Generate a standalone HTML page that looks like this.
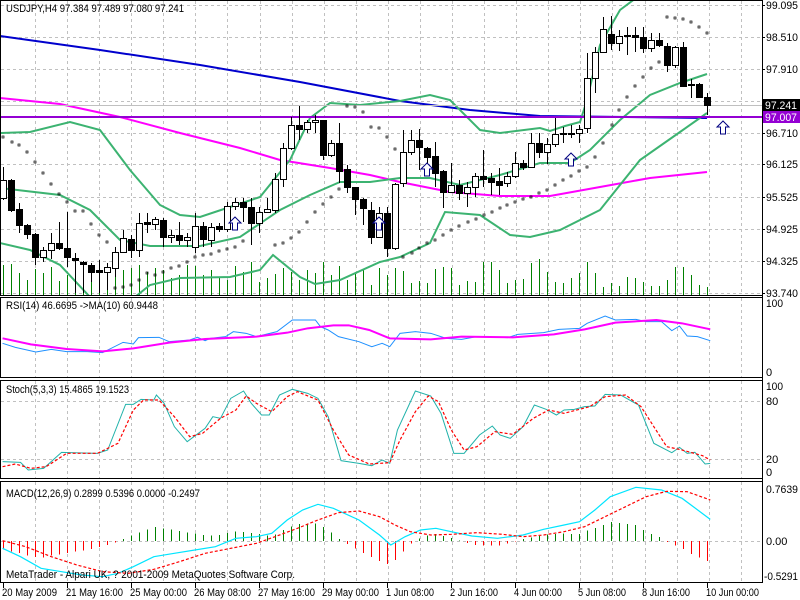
<!DOCTYPE html>
<html><head><meta charset="utf-8"><style>
html,body{margin:0;padding:0;background:#fff;width:800px;height:600px;overflow:hidden}
svg{display:block;font-family:"Liberation Sans",sans-serif;font-size:11px}
</style></head><body>
<svg id="s" width="800" height="600" xmlns="http://www.w3.org/2000/svg"></svg>
<script>
var S=document.getElementById('s'),h='';
function L(x1,y1,x2,y2,c,w,d){h+='<line x1="'+x1+'" y1="'+y1+'" x2="'+x2+'" y2="'+y2+'" stroke="'+c+'" stroke-width="'+(w||1)+'"'+(d?' stroke-dasharray="'+d+'"':'')+' shape-rendering="crispEdges"/>';}
function P(pts,c,w,d,clip){h+='<polyline fill="none" points="'+pts.map(function(p){return p[0]+','+p[1]}).join(' ')+'" stroke="'+c+'" stroke-width="'+(w||1)+'"'+(d?' stroke-dasharray="'+d+'"':'')+(clip?' clip-path="url(#'+clip+')"':'')+'/>';}
function T(x,y,t,c,tl){h+='<text x="'+x+'" y="'+y+'" fill="'+(c||'#000')+'"'+(tl?' textLength="'+tl+'" lengthAdjust="spacingAndGlyphs"':'')+'>'+t+'</text>';}
function Z(arr){return arr.map(function(p){return [p[0]/1.95,p[1]/3+290]});}
h+='<defs><clipPath id="cm"><rect x="1" y="1" width="761" height="294"/></clipPath></defs>';
var G='#c0c0c0';
var panels=[[1,295],[298,377],[381,478],[482,582]];
panels.forEach(function(p){for(var x=35;x<760;x+=32.08){L(Math.round(x)+.5,p[0],Math.round(x)+.5,p[1],G,1,'3,3');}});
[5,37,69,101,133,164,197,229,261,293].forEach(function(y){L(1,y+.5,762,y+.5,G,1,'3,3');});
L(1,401.5,762,401.5,G,1,'3,3');L(1,459.5,762,459.5,G,1,'3,3');L(1,541.5,762,541.5,G,1,'3,3');
var vol=[265,264,273,280,269,273,267,281,275,280,274,275,280,283,270,270,268,265,272,268,270,278,275,265,266,275,270,278,280,266,272,262,282,278,274,268,272,280,270,273,262,275,266,280,272,270,285,268,275,268,271,283,281,283,269,267,268,285,281,282,262,262,270,283,280,279,263,259,272,282,283,278,273,262,273,287,283,286,277,278,282,286,286,280,267,267,275,285,287];
vol.forEach(function(v,i){var x=3+8*i;L(x+.5,v,x+.5,295,'#008000',1);});
P([[0,36],[100,50],[200,65],[300,82],[400,101],[470,110],[540,116],[707,118]],'#0000cd',2);
P([[0,98],[60,104],[120,117],[180,133],[240,148],[280,160],[330,168],[370,175],[400,182],[450,192],[500,196],[550,196],[600,187],[650,178],[707,172]],'#ff00ff',2);
var bc='#3cb371';
P([[0,133],[30,132],[70,122],[100,130],[130,170],[160,205],[180,215],[200,217],[230,207],[260,197],[290,160],[310,118],[330,103],[360,105],[400,101],[430,95],[450,100],[480,130],[500,133],[540,128],[550,131],[565,126],[580,122],[587,100],[600,45],[620,10],[640,-5]],bc,2,null,'cm');
P([[0,188],[60,195],[90,210],[120,240],[150,246],[200,246],[240,237],[280,210],[310,195],[340,182],[370,182],[400,178],[430,178],[460,185],[500,175],[540,163],[570,163],[590,150],[620,120],[650,95],[680,83],[707,74]],bc,2);
P([[0,243],[30,250],[60,265],[90,297],[135,297],[150,285],[180,278],[230,277],[260,270],[273,255],[300,277],[315,284],[340,280],[380,262],[400,257],[430,243],[445,212],[480,215],[510,235],[530,237],[560,230],[600,210],[640,160],[680,132],[707,113]],bc,2,null,'cm');
L(1,105.5,762,105.5,'#c0c0c0',1);
L(1,117,762,117,'#9400d3',2);
var C=[[1,180,198,167,200],[0,180,210,179,212],[0,209,225,203,233],[0,225,234,224,239],[0,234,257,233,265],[1,250,257,247,262],[1,243,250,233,259],[0,243,248,222,250],[0,248,257,212,267],[0,258,260,253,293],[0,262,264,261,293],[0,265,272,263,282],[0,270,272,260,293],[1,267,272,263,290],[1,252,268,247,277],[1,238,252,230,253],[0,239,250,235,258],[1,223,250,213,257],[0,222,224,213,233],[1,219,224,217,230],[0,220,237,218,247],[1,235,237,230,243],[0,235,240,222,245],[1,237,240,233,247],[1,226,247,213,253],[0,226,239,222,247],[1,227,240,223,247],[0,226,229,223,232],[1,206,229,202,232],[1,202,206,198,210],[0,202,207,198,222],[0,207,223,198,245],[1,212,223,207,233],[1,209,212,198,213],[1,179,210,173,213],[1,148,179,143,187],[1,125,148,117,150],[0,125,129,106,140],[1,122,129,120,133],[1,120,122,115,133],[0,120,155,120,160],[1,143,155,140,157],[0,143,171,123,183],[0,169,187,165,193],[0,187,199,187,215],[0,199,208,198,225],[0,210,237,202,244],[1,213,237,207,238],[0,213,248,207,257],[1,184,248,183,250],
[1,152,183,130,187],[1,140,152,130,155],[0,140,147,129,170],[0,148,157,147,167],[0,156,173,142,187],[0,171,192,170,208],[1,185,192,163,193],[0,185,193,180,200],[1,187,193,182,207],[1,176,187,173,197],[0,176,179,150,187],[0,178,182,173,195],[0,181,185,168,195],[1,176,183,172,187],[1,163,176,152,178],[0,163,167,160,170],[1,143,167,133,168],[0,143,152,133,158],[1,144,152,138,164],[1,134,144,118,147],[1,133,134,127,143],[0,133,134,125,138],[1,129,133,125,143],[1,78,128,53,133],[1,52,78,47,93],[1,29,52,17,53],[0,34,43,16,50],[1,36,43,30,51],[1,35,36,27,55],[0,35,37,27,52],[0,37,48,27,53],[1,40,48,33,52],[0,40,45,33,47],[0,46,65,43,72],[1,47,65,46,68],[0,47,86,42,87],[0,84,85,79,98],[0,84,97,83,98],[0,97,105,93,115]];
C.forEach(function(c,i){var x=3+8*i;L(x+.5,c[3],x+.5,c[4],'#000',1);var bh=Math.max(1,c[2]-c[1]);h+='<rect x="'+(x-2.5)+'" y="'+(c[1]+.5)+'" width="6" height="'+bh+'" fill="'+(c[0]?'#fff':'#000')+'" stroke="#000" stroke-width="1"/>';});
var sar=[[3,137],[12,142],[19,145],[27,152],[35,162],[43,173],[51,184],[59,194],[67,202],[75,211],[83,211],[91,224],[99,235],[107,242],[115,288],[123,287],[131,285],[139,280],[147,273],[155,275],[163,272],[171,268],[179,266],[187,262],[195,257],[203,255],[211,254],[219,251],[227,249],[235,247],[243,241],[275,245],[283,243],[291,238],[299,232],[307,222],[315,212],[323,204],[331,197],[339,189],[347,106],[355,107],[363,112],[371,127],[379,128],[387,137],[395,149],[403,257],[412,253],[419,248],[427,243],[435,240],[443,235],[451,230],[459,226],[468,222],[476,219],[484,215],[492,212],[500,208],[507,205],[515,202],[523,199],[531,197],[539,193],[547,190],[555,185],[563,180],[571,176],[579,171],[587,167],[595,157],[603,143],[612,125],[619,110],[627,97],[635,86],[643,77],[651,68],[659,62],[667,17],[675,18],[683,19],[691,22],[699,27],[707,33]];
sar.forEach(function(p){h+='<rect x="'+(p[0]-1)+'" y="'+(p[1]-1)+'" width="2" height="2" fill="none" stroke="#000" stroke-width="0.7"/>';});
function A(x,y){h+='<path d="M'+x+' '+y+' l-6 6 h3.5 v7 h5 v-7 h3.5 z" fill="#fff" stroke="#000080" stroke-width="1"/>';}
A(235,217);A(379,217);A(427,163);A(571,153);A(723,121);
T(6,12,'USDJPY,H4  97.384 97.489 97.080 97.241',null,178);
[[5,'99.095'],[37,'98.510'],[69,'97.910'],[133,'96.710'],[164,'96.125'],[197,'95.525'],[229,'94.925'],[261,'94.325'],[293,'93.740']].forEach(function(p){L(762,p[0]+.5,765,p[0]+.5,'#000');T(766,p[0]+4,p[1],null,32);});
h+='<rect x="763" y="99" width="37" height="12" fill="#000"/>';T(765,109,'97.241','#fff',32);
h+='<rect x="763" y="111" width="37" height="12" fill="#9400d3"/>';T(765,121,'97.007','#fff',32);
var rm=Z([[5,145],[60,163],[130,177],[200,184],[260,175],[330,158],[400,147],[500,140],[560,128],[600,115],[650,106],[680,106],[720,120],[760,145],[840,148],[900,140],[1000,142],[1080,133],[1140,118],[1200,98],[1280,90],[1330,100],[1385,118]]);
var rb=Z([[5,160],[30,172],[70,186],[100,178],[130,185],[170,185],[200,188],[240,157],[260,162],[270,143],[310,142],[330,155],[370,150],[385,142],[400,152],[410,145],[440,140],[455,125],[480,130],[500,140],[540,125],[570,90],[615,90],[625,110],[640,120],[660,140],[700,155],[725,170],[745,160],[760,170],[780,130],[810,125],[840,130],[870,145],[900,148],[930,140],[990,143],[1010,133],[1060,128],[1090,118],[1130,115],[1145,100],[1180,78],[1200,90],[1240,88],[1260,95],[1290,95],[1310,122],[1325,108],[1340,138],[1360,140],[1385,152]]);
P(rb,'#1e90ff',1);P(rm,'#ff00ff',2);
T(6,309,'RSI(14) 46.6695  -&gt;MA(10) 60.9448',null,152);
T(766,307,'100',null,17);T(766,376,'0');
var st=Z([[5,515],[40,517],[55,540],[85,535],[120,487],[190,490],[210,480],[245,343],[260,343],[275,328],[300,330],[305,315],[320,340],[340,410],[365,455],[400,415],[415,380],[430,385],[450,325],[475,303],[490,340],[510,375],[525,375],[545,315],[570,298],[600,310],[620,325],[640,380],[665,512],[700,520],[725,527],[745,510],[760,520],[775,420],[810,303],[840,318],[860,370],[885,490],[905,490],[935,435],[960,408],[975,435],[995,445],[1020,410],[1042,345],[1065,358],[1085,375],[1100,360],[1120,358],[1140,350],[1160,348],[1180,313],[1210,315],[1245,345],[1275,460],[1310,488],[1325,472],[1340,490],[1355,487],[1375,522],[1385,520]]);
var ss=Z([[5,530],[30,522],[60,535],[90,530],[130,490],[190,490],[230,460],[260,360],[280,330],[310,330],[340,380],[370,440],[395,430],[430,385],[460,360],[480,318],[500,340],[530,365],[560,320],[580,305],[620,330],[650,420],[680,495],[720,522],[760,518],[780,450],[810,365],[835,318],[855,335],[880,420],[905,480],[930,470],[965,425],[1000,433],[1040,385],[1070,360],[1100,370],[1150,350],[1180,320],[1220,315],[1250,350],[1275,410],[1300,470],[1330,480],[1370,497],[1385,510]]);
P(st,'#20b2aa',1);P(ss,'#ff0000',1.2,'3,2');
T(6,393,'Stoch(5,3,3) 15.4865 19.1523',null,123);
T(766,390,'100',null,17);T(766,405,'80');T(766,463,'20');T(766,476,'0');
var mm=Z([[5,775],[40,800],[80,835],[120,845],[160,855],[200,860],[230,850],[260,830],[300,800],[340,790],[380,780],[420,770],[460,745],[500,740],[530,730],[560,690],[590,660],[620,643],[650,655],[700,690],[740,735],[762,765],[790,740],[820,720],[850,715],[880,725],[920,738],[970,745],[1020,735],[1060,718],[1100,705],[1130,695],[1160,660],[1190,620],[1240,592],[1290,600],[1330,625],[1385,688]]);
var ms=Z([[5,752],[50,770],[100,800],[150,825],[200,845],[250,850],[300,838],[350,815],[400,790],[450,775],[500,760],[540,738],[580,715],[620,690],[660,668],[700,663],[740,680],[770,705],[800,725],[840,735],[880,733],[930,728],[980,733],[1020,740],[1060,735],[1100,725],[1140,710],[1180,680],[1220,650],[1260,620],[1300,604],[1340,605],[1385,630]]);
function iy(a,x){for(var k=0;k<a.length-1;k++){if(x<=a[k+1][0]){var t=(x-a[k][0])/(a[k+1][0]-a[k][0]);return a[k][1]+t*(a[k+1][1]-a[k][1]);}}return a[a.length-1][1];}
for(var i=0;i<89;i++){var x=3+8*i;var d=(iy(ms,x)-iy(mm,x))*1.1;var y2=541-d;L(x+.5,541,x+.5,y2,d>0?'#008000':'#ff0000',1);}
P(mm,'#00e5ff',1.2);P(ms,'#ff0000',1.2,'3,2');
T(6,497,'MACD(12,26,9) 0.2899 0.5396 0.0000 -0.2497',null,194);
T(766,493,'0.7639',null,32);T(766,545,'0.00');T(764,580,'-0.5291',null,34);
T(6,578,'MetaTrader - Alpari UK, ? 2001-2009 MetaQuotes Software Corp.',null,289);
panels.forEach(function(p){h+='<rect x="0.5" y="'+(p[0]-0.5)+'" width="762" height="'+(p[1]-p[0]+1)+'" fill="none" stroke="#000" stroke-width="1"/>';});
L(762.5,0,762.5,583,'#000');
var dl=['20 May 2009','21 May 16:00','25 May 00:00','26 May 08:00','27 May 16:00','29 May 00:00','1 Jun 08:00','2 Jun 16:00','4 Jun 00:00','5 Jun 08:00','8 Jun 16:00','10 Jun 00:00'];
var dw=[55,57,57,57,57,57,48,48,48,48,48,53];
dl.forEach(function(t,k){var x=3+64*k;L(x+.5,583,x+.5,588,'#000');T(x-1,596,t,null,dw[k]);});
S.innerHTML=h;
</script>
</body></html>
